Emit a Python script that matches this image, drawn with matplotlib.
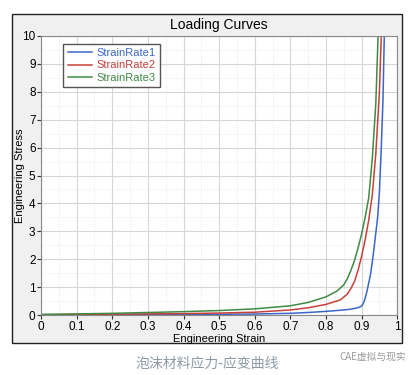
import matplotlib.pyplot as plt
import matplotlib.patches as mpatches
import numpy as np

plt.rcParams['font.family'] = ['Liberation Sans', 'Noto Sans CJK SC', 'DejaVu Sans']

# 数据：工程应变 - 工程应力
strain1 = [0, 0.1, 0.2, 0.3, 0.4, 0.5, 0.6, 0.7, 0.75, 0.8, 0.85, 0.87, 0.89, 0.9,
           0.905, 0.91, 0.915, 0.92, 0.925, 0.93, 0.935, 0.94, 0.945, 0.95, 0.955,
           0.96, 0.964]
stress1 = [0, 0.005, 0.01, 0.015, 0.02, 0.025, 0.035, 0.06, 0.09, 0.13, 0.18,
           0.21, 0.26, 0.32, 0.42, 0.6, 0.85, 1.15, 1.45, 1.9, 2.4, 2.95, 3.5,
           4.4, 5.9, 7.7, 10.2]

strain2 = [0, 0.1, 0.2, 0.3, 0.4, 0.5, 0.6, 0.7, 0.75, 0.8, 0.84, 0.86, 0.87,
           0.88, 0.89, 0.9, 0.91, 0.92, 0.93, 0.94, 0.95, 0.956]
stress2 = [0.01, 0.02, 0.03, 0.04, 0.05, 0.07, 0.1, 0.18, 0.26, 0.38, 0.54,
           0.75, 0.95, 1.2, 1.6, 2.1, 2.7, 3.4, 4.3, 5.8, 8.0, 10.3]

strain3 = [0, 0.1, 0.2, 0.3, 0.4, 0.5, 0.6, 0.7, 0.75, 0.8, 0.83, 0.85, 0.86,
           0.87, 0.88, 0.89, 0.9, 0.91, 0.92, 0.93, 0.94, 0.947]
stress3 = [0.02, 0.04, 0.06, 0.09, 0.12, 0.16, 0.22, 0.33, 0.45, 0.65, 0.85,
           1.08, 1.3, 1.6, 1.95, 2.4, 2.9, 3.5, 4.2, 5.6, 7.6, 10.3]

labels = ['StrainRate1', 'StrainRate2', 'StrainRate3']
colors = ['#3b66c8', '#c8403a', '#3f8a44']

fig = plt.figure(figsize=(4.19, 3.75), dpi=100)
fig.patch.set_facecolor('white')

# 外框（灰色背景）
frame = mpatches.Rectangle((0.0286, 0.0853), 0.9308, 0.8774, transform=fig.transFigure,
                           facecolor='#f0f0f0', edgecolor='#222222', linewidth=1.0, zorder=-1)
fig.patches.append(frame)

ax = fig.add_axes([0.098, 0.16, 0.85, 0.744])
ax.set_zorder(2)
ax.set_facecolor('white')

for x, y, lab, c in zip([strain1, strain2, strain3], [stress1, stress2, stress3], labels, colors):
    ax.plot(x, y, color=c, linewidth=1.1, label=lab)

ax.set_xlim(0, 1)
ax.set_ylim(0, 10)
ax.set_xticks(np.arange(0, 1.01, 0.1))
ax.set_xticklabels(['0', '0.1', '0.2', '0.3', '0.4', '0.5', '0.6', '0.7', '0.8', '0.9', '1'])
ax.set_yticks(range(0, 11))
ax.set_xticks(np.arange(0.05, 1, 0.1), minor=True)
ax.set_yticks(np.arange(0.5, 10, 1), minor=True)
ax.grid(which='major', color='#d6d6d6', linewidth=0.8)
ax.grid(which='minor', color='#e2e2e2', linewidth=0.6, linestyle=':')
ax.set_axisbelow(True)
ax.tick_params(which='major', length=3, labelsize=8.5, pad=1, colors='#333333', labelcolor='black')
ax.tick_params(which='minor', length=0)
for s in ax.spines.values():
    s.set_color('#888888')
    s.set_linewidth(0.8)

ax.set_xlabel('Engineering Strain', fontsize=8, labelpad=1)
ax.set_ylabel('Engineering Stress', fontsize=8)
ax.yaxis.set_label_coords(-0.044, 0.5)
ax.set_title('Loading Curves', fontsize=10, pad=5)

leg = ax.legend(loc='upper left', bbox_to_anchor=(0.062, 0.972), borderaxespad=0,
                fontsize=8, fancybox=False, framealpha=1, edgecolor='#555555',
                handlelength=2.2, handletextpad=0.4, borderpad=0.4, labelspacing=0.2)
for t, c in zip(leg.get_texts(), colors):
    t.set_color(c)

# 图注和水印
fig.text(0.494, 0.03, '泡沫材料应力-应变曲线', ha='center', va='center',
         fontsize=10, color='#8c9aa6', family=['Noto Sans CJK SC', 'DejaVu Sans'])
fig.text(0.97, 0.048, 'CAE虚拟与现实', ha='right', va='center',
         fontsize=7, color='#9a9a9a', family=['Noto Sans CJK SC', 'DejaVu Sans'])

fig.savefig('out.png', dpi=100)
